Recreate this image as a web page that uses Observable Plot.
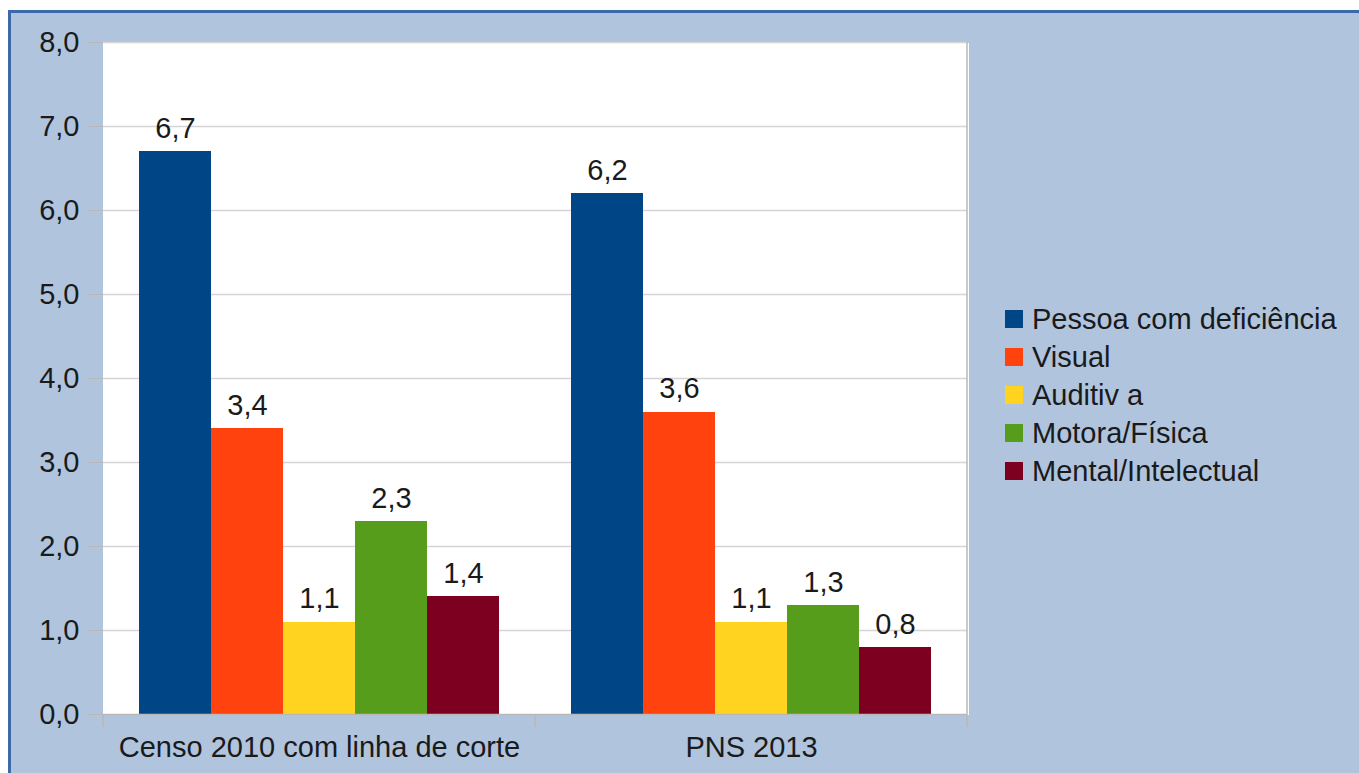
<!DOCTYPE html>
<html><head><meta charset="utf-8">
<script src="https://cdn.jsdelivr.net/npm/d3@7"></script>
<script src="https://cdn.jsdelivr.net/npm/@observablehq/plot@0.6"></script>
<style>
html,body{margin:0;padding:0;background:#fff;}
#wrap{position:relative;width:1359px;height:773px;overflow:hidden;font-family:"Liberation Sans",Arial,sans-serif;}
#bg{position:absolute;left:8px;top:10px;width:1400px;height:800px;background:#b0c4de;border-left:3px solid #3b69aa;border-top:3px solid #3b69aa;}
#chart{position:absolute;left:0;top:0;}
#legend{position:absolute;left:1005px;top:300px;font-size:29px;color:#1a1a1a;}
.row{display:flex;align-items:center;height:38px;white-space:nowrap;}
.sw{width:18px;height:18px;margin-right:9px;flex:none;}
</style>
</head><body>
<div id="wrap"><div id="bg"></div><div id="chart"></div><div id="legend"></div></div>
<script>
const groups = ["Censo 2010 com linha de corte", "PNS 2013"];
const series = ["Pessoa com deficiência", "Visual", "Auditiva", "Motora/Física", "Mental/Intelectual"];
const legendLabels = ["Pessoa com deficiência", "Visual", "Auditiv a", "Motora/Física", "Mental/Intelectual"];
const censo2010 = [6.7, 3.4, 1.1, 2.3, 1.4];
const pns2013 = [6.2, 3.6, 1.1, 1.3, 0.8];
const colors = ["#004586", "#ff420e", "#ffd320", "#579d1c", "#7e0021"];
const yTicks = [0, 1, 2, 3, 4, 5, 6, 7, 8];

const rows = [];
series.forEach((s, i) => rows.push({group: groups[0], series: s, value: censo2010[i]}));
series.forEach((s, i) => rows.push({group: groups[1], series: s, value: pns2013[i]}));

const fmt = d => d.toFixed(1).replace(".", ",");
const W = 1359, H = 773;

const plot = Plot.plot({
  width: W, height: H,
  marginLeft: 102, marginRight: 392, marginTop: 42, marginBottom: 59,
  style: {background: "transparent", fontFamily: "'Liberation Sans', Arial, sans-serif", fontSize: "29px", color: "#1a1a1a"},
  fx: {domain: groups, padding: 0},
  x: {domain: series, paddingInner: 0, paddingOuter: 0.5, axis: null},
  y: {domain: [0, 8], axis: null},
  color: {domain: series, range: colors},
  marks: [
    Plot.frame({fill: "white", stroke: null, insetLeft: -1, insetRight: -1, shapeRendering: "crispEdges"}),
    Plot.ruleY(yTicks.filter(d => d > 0), {stroke: "#d4d4d4", strokeWidth: 1.5}),
    Plot.barY(rows, {fx: "group", x: "series", y: "value", fill: "series", inset: 0, shapeRendering: "crispEdges"}),
    Plot.ruleY([0], {stroke: "#b8b8b8", strokeWidth: 1.5}),
    Plot.text(rows, {fx: "group", x: "series", y: "value", text: d => fmt(d.value), dy: -23, fill: "#1a1a1a"}),
    Plot.axisY(yTicks, {anchor: "left", tickSize: 15, tickPadding: 9, tickFormat: fmt, stroke: "#b8b8b8", fill: "#1a1a1a", label: null}),
    Plot.axisFx({anchor: "bottom", tickSize: 0, tickPadding: 22, label: null, fill: "#1a1a1a"})
  ]
});
document.getElementById("chart").appendChild(plot);

// category boundary ticks and right edge line, from Plot's own scales
const fx = plot.scale("fx"), y = plot.scale("y");
const edges = groups.map(g => fx.apply(g)).concat([fx.apply(groups[groups.length - 1]) + fx.bandwidth]);
const svg = d3.select(plot);
const g = svg.append("g").attr("stroke", "#b8b8b8").attr("stroke-width", 1.5);
edges.forEach((x, i) => {
  g.append("line").attr("x1", x).attr("x2", x).attr("y1", y.apply(0)).attr("y2", y.apply(0) + 13);
});
g.append("line").attr("x1", edges[edges.length - 1]).attr("x2", edges[edges.length - 1]).attr("y1", y.apply(8)).attr("y2", y.apply(0));

// legend
const leg = d3.select("#legend");
series.forEach((s, i) => {
  const r = leg.append("div").attr("class", "row");
  r.append("div").attr("class", "sw").style("background", colors[i]);
  r.append("span").text(legendLabels[i]);
});
</script>
</body></html>
